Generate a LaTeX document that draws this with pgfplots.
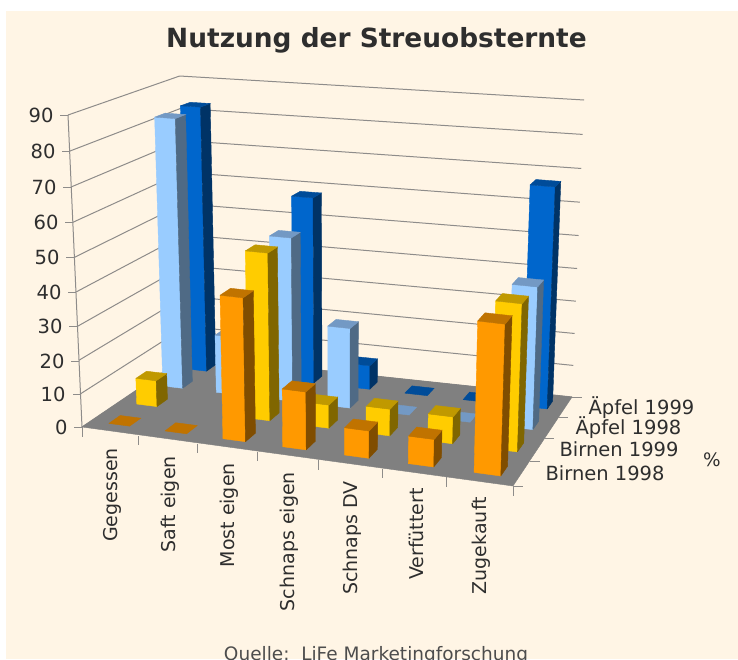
\documentclass[border=0pt]{standalone}
\usepackage{fontspec}
\setmainfont{DejaVu Sans}
\usepackage{pgfplots}
\pgfplotsset{compat=1.18}

\definecolor{cream}{HTML}{FFF5E5}
\definecolor{gridc}{HTML}{8E8C8A}
\definecolor{txt}{HTML}{2E2E2E}
% front, side, top of each series
\definecolor{orF}{HTML}{FF9900}\definecolor{orS}{HTML}{804D00}\definecolor{orT}{HTML}{C07300}
\definecolor{yeF}{HTML}{FFCC00}\definecolor{yeS}{HTML}{806600}\definecolor{yeT}{HTML}{C09900}
\definecolor{lbF}{HTML}{99CCFF}\definecolor{lbS}{HTML}{4F6A85}\definecolor{lbT}{HTML}{7399C4}
\definecolor{dbF}{HTML}{0066CC}\definecolor{dbS}{HTML}{003366}\definecolor{dbT}{HTML}{004C99}

% perspective: u along categories, v into the depth (both 0..1), z in percent
\newcommand\tdproj[3]{%
  \pgfmathsetmacro\tdW{-0.1375*#1+0.14055*#2+1}%
  \pgfmathsetmacro\tdX{(360.46*#1+131.28*#2+82)/\tdW}%
  \pgfmathsetmacro\tdY{(-7.83*#1-20.96*#2+427)/\tdW}%
  \pgfmathsetmacro\tdT{#3/90}%
  \pgfmathsetmacro\tdH{(312-32*#2+17*#1)*\tdT*(0.952+0.048*\tdT)}%
  \pgfmathsetmacro\tdXX{\tdX+(\tdX-339)/(6157-\tdY)*\tdH}%
  \pgfmathsetmacro\tdYY{\tdY-\tdH}%
  \edef\tdpath{\tdpath (\tdXX,\tdYY)}}
\newcommand\tdface[2]{% options, points as {u}{v}{z} triples already in \tdpath
  \edef\tdcmd{\noexpand\addplot[#1] coordinates {\tdpath};}\tdcmd}
\newcommand\tdline[6]{%
  \def\tdpath{}\tdproj{#1}{#2}{#3}\tdproj{#4}{#5}{#6}%
  \tdface{draw=gridc,line width=1pt}{}}
% \tdbar{category}{series}{value}{colour prefix}
\newcommand\tdbar[4]{%
  \pgfmathsetmacro\tdO{0.40-0.005*(#1-3.5)*(#1-3.5)}%
  \pgfmathsetmacro\uA{(#1+\tdO)/7}\pgfmathsetmacro\uB{(#1+\tdO+0.385)/7}%
  \pgfmathsetmacro\vA{(#2+0.3)/4}\pgfmathsetmacro\vB{(#2+0.7)/4}%
  \ifdim#3pt>0pt
    \def\tdpath{}\tdproj{\uA}{\vA}{0}\tdproj{\uB}{\vA}{0}\tdproj{\uB}{\vA}{#3}\tdproj{\uA}{\vA}{#3}\tdproj{\uA}{\vA}{0}%
    \tdface{fill=#4F,draw=#4F,line width=0.4pt}{}%
    \def\tdpath{}\tdproj{\uB}{\vA}{0}\tdproj{\uB}{\vB}{0}\tdproj{\uB}{\vB}{#3}\tdproj{\uB}{\vA}{#3}\tdproj{\uB}{\vA}{0}%
    \tdface{fill=#4S,draw=#4S,line width=0.4pt}{}%
  \fi
  \def\tdpath{}\tdproj{\uA}{\vA}{#3}\tdproj{\uB}{\vA}{#3}\tdproj{\uB}{\vB}{#3}\tdproj{\uA}{\vB}{#3}\tdproj{\uA}{\vA}{#3}%
  \tdface{fill=#4T,draw=#4T,line width=0.4pt}{}}

\begin{document}
\begin{tikzpicture}[x=1pt,y=1pt]
\path[use as bounding box] (0,0) rectangle (738,659);
\clip (0,0) rectangle (738,659);
\fill[white] (0,0) rectangle (738,659);
\fill[cream] (6,0) rectangle (738,648);
\begin{axis}[
    at={(0,0)}, anchor=south west,
    scale only axis, width=738pt, height=659pt,
    xmin=0, xmax=738, ymin=0, ymax=659,
    y dir=reverse,
    axis lines=none,
    clip=false,
    every axis plot/.append style={no markers},
    nodes={text=txt, font=\fontsize{18.5}{20}\selectfont},
]
    % Waende
    \pgfplotsinvokeforeach{0,10,...,90}{
        \tdline{0}{0}{#1}{0}{1}{#1}
        \tdline{0}{1}{#1}{1}{1}{#1}
    }
    \tdline{0}{0}{0}{0}{0}{90}
    % Boden
    \def\tdpath{}\tdproj{0}{0}{0}\tdproj{1}{0}{0}\tdproj{1}{1}{0}\tdproj{0}{1}{0}\tdproj{0}{0}{0}
    \tdface{fill=gray!100!white,draw=gray}{}

    % Ticks
    \addplot[draw=gridc,line width=1pt] coordinates {(82,427)(74,427)};
    \addplot[draw=gridc,line width=1pt] coordinates {(81,394)(73,394)};
    \addplot[draw=gridc,line width=1pt] coordinates {(79,361)(71,361)};
    \addplot[draw=gridc,line width=1pt] coordinates {(77,326)(69,326)};
    \addplot[draw=gridc,line width=1pt] coordinates {(76,292)(68,292)};
    \addplot[draw=gridc,line width=1pt] coordinates {(74,257)(66,257)};
    \addplot[draw=gridc,line width=1pt] coordinates {(73,222)(65,222)};
    \addplot[draw=gridc,line width=1pt] coordinates {(71,187)(63,187)};
    \addplot[draw=gridc,line width=1pt] coordinates {(70,151)(62,151)};
    \addplot[draw=gridc,line width=1pt] coordinates {(68,115)(60,115)};

    \addplot[draw=gridc,line width=1pt] coordinates {(82,427)(82,437)};
    \addplot[draw=gridc,line width=1pt] coordinates {(138,436)(138,445)};
    \addplot[draw=gridc,line width=1pt] coordinates {(197,444)(197,453)};
    \addplot[draw=gridc,line width=1pt] coordinates {(257,452)(257,461)};
    \addplot[draw=gridc,line width=1pt] coordinates {(318,460)(318,470)};
    \addplot[draw=gridc,line width=1pt] coordinates {(382,469)(382,478)};
    \addplot[draw=gridc,line width=1pt] coordinates {(446,477)(446,487)};
    \addplot[draw=gridc,line width=1pt] coordinates {(513,486)(513,496)};

    \addplot[draw=gridc,line width=1pt] coordinates {(513,486)(523,486)};
    \addplot[draw=gridc,line width=1pt] coordinates {(530,461)(540,461)};
    \addplot[draw=gridc,line width=1pt] coordinates {(544,438)(554,438)};
    \addplot[draw=gridc,line width=1pt] coordinates {(558,417)(568,417)};
    \addplot[draw=gridc,line width=1pt] coordinates {(572,397)(582,397)};

    % Aepfel 1999
    \tdbar{0}{3}{83}{db}
    \tdbar{2}{3}{58}{db}
    \tdbar{3}{3}{7.5}{db}
    \tdbar{4}{3}{0}{db}
    \tdbar{5}{3}{0}{db}
    \tdbar{6}{3}{67}{db}
    % Aepfel 1998
    \tdbar{0}{2}{82.5}{lb}
    \tdbar{1}{2}{18}{lb}
    \tdbar{2}{2}{50}{lb}
    \tdbar{3}{2}{24.5}{lb}
    \tdbar{4}{2}{0}{lb}
    \tdbar{5}{2}{0}{lb}
    \tdbar{6}{2}{42.5}{lb}
    % Birnen 1999
    \tdbar{0}{1}{8}{ye}
    \tdbar{2}{1}{50}{ye}
    \tdbar{3}{1}{7}{ye}
    \tdbar{4}{1}{8}{ye}
    \tdbar{5}{1}{8}{ye}
    \tdbar{6}{1}{43}{ye}
    % Birnen 1998
    \tdbar{0}{0}{0}{or}
    \tdbar{1}{0}{0}{or}
    \tdbar{2}{0}{42}{or}
    \tdbar{3}{0}{17}{or}
    \tdbar{4}{0}{8}{or}
    \tdbar{5}{0}{8}{or}
    \tdbar{6}{0}{43}{or}

    % Beschriftung
    \node[font=\fontsize{26.4}{29}\selectfont\bfseries] at (axis cs:376.5,40) {Nutzung der Streuobsternte};
    \node[anchor=east,font=\fontsize{19.5}{21}\selectfont] at (axis cs:57,115) {90};
    \node[anchor=east,font=\fontsize{19.5}{21}\selectfont] at (axis cs:59,151) {80};
    \node[anchor=east,font=\fontsize{19.5}{21}\selectfont] at (axis cs:60,187) {70};
    \node[anchor=east,font=\fontsize{19.5}{21}\selectfont] at (axis cs:62,222) {60};
    \node[anchor=east,font=\fontsize{19.5}{21}\selectfont] at (axis cs:63,257) {50};
    \node[anchor=east,font=\fontsize{19.5}{21}\selectfont] at (axis cs:65,292) {40};
    \node[anchor=east,font=\fontsize{19.5}{21}\selectfont] at (axis cs:66,326) {30};
    \node[anchor=east,font=\fontsize{19.5}{21}\selectfont] at (axis cs:68,361) {20};
    \node[anchor=east,font=\fontsize{19.5}{21}\selectfont] at (axis cs:69,394) {10};
    \node[anchor=east,font=\fontsize{19.5}{21}\selectfont] at (axis cs:71,427) {0};

    \node[rotate=90,anchor=east,inner sep=0pt,font=\fontsize{19}{21}\selectfont] at (axis cs:112,448) {Gegessen};
    \node[rotate=90,anchor=east,inner sep=0pt,font=\fontsize{19}{21}\selectfont] at (axis cs:170,456) {Saft eigen};
    \node[rotate=90,anchor=east,inner sep=0pt,font=\fontsize{19}{21}\selectfont] at (axis cs:229,463) {Most eigen};
    \node[rotate=90,anchor=east,inner sep=0pt,font=\fontsize{19}{21}\selectfont] at (axis cs:289,472) {Schnaps eigen};
    \node[rotate=90,anchor=east,inner sep=0pt,font=\fontsize{19}{21}\selectfont] at (axis cs:352,481) {Schnaps DV};
    \node[rotate=90,anchor=east,inner sep=0pt,font=\fontsize{19}{21}\selectfont] at (axis cs:416,488) {Verfüttert};
    \node[rotate=90,anchor=east,inner sep=0pt,font=\fontsize{19}{21}\selectfont] at (axis cs:481,497) {Zugekauft};

    \node[anchor=west,font=\fontsize{19.5}{21}\selectfont] at (axis cs:585,408) {Äpfel 1999};
    \node[anchor=west,font=\fontsize{19.5}{21}\selectfont] at (axis cs:572,428) {Äpfel 1998};
    \node[anchor=west,font=\fontsize{19.5}{21}\selectfont] at (axis cs:556,449) {Birnen 1999};
    \node[anchor=west,font=\fontsize{19.5}{21}\selectfont] at (axis cs:542,473) {Birnen 1998};
    \node at (axis cs:712,460) {\%};
    \node[text=txt!85!white] at (axis cs:376,655) {Quelle:\ \ LiFe Marketingforschung};
\end{axis}
\end{tikzpicture}
\end{document}
